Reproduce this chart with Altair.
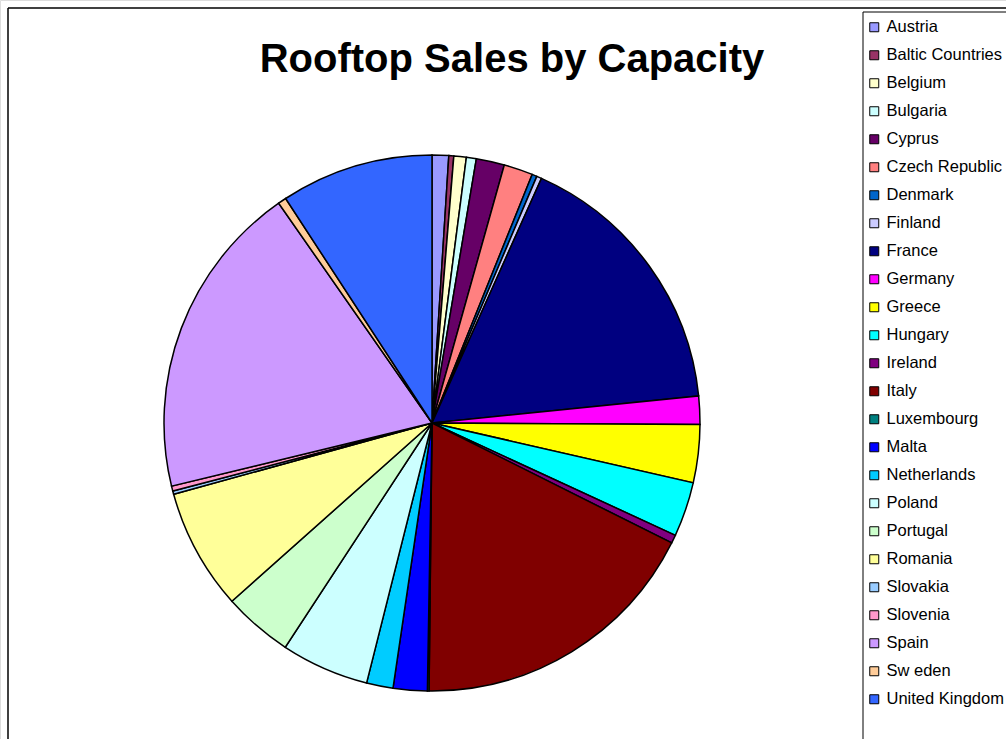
import altair as alt
import pandas as pd

countries = ["Austria", "Baltic Countries", "Belgium", "Bulgaria", "Cyprus",
             "Czech Republic", "Denmark", "Finland", "France", "Germany",
             "Greece", "Hungary", "Ireland", "Italy", "Luxembourg", "Malta",
             "Netherlands", "Poland", "Portugal", "Romania", "Slovakia",
             "Slovenia", "Spain", "Sw eden", "United Kingdom"]
shares = [1.0, 0.3, 0.75, 0.6, 1.7, 1.75, 0.3, 0.3, 16.7, 1.7,
          3.5, 3.3, 0.5, 17.8, 0.1, 2.05, 1.6, 5.3, 4.2, 7.3,
          0.2, 0.3, 19.1, 0.5, 9.2]
colors = ["#9999FF", "#993366", "#FFFFCC", "#CCFFFF", "#660066",
          "#FF8080", "#0066CC", "#CCCCFF", "#000080", "#FF00FF",
          "#FFFF00", "#00FFFF", "#800080", "#800000", "#008080", "#0000FF",
          "#00CCFF", "#CCFFFF", "#CCFFCC", "#FFFF99", "#99CCFF",
          "#FF99CC", "#CC99FF", "#FFCC99", "#3366FF"]
chart_title = "Rooftop Sales by Capacity"

df = pd.DataFrame({"country": countries, "share": shares,
                   "idx": list(range(len(countries)))})
one = pd.DataFrame({"t": [chart_title]})

FONT = "Liberation Sans"

pie = alt.Chart(df).mark_arc(stroke="black", strokeWidth=1.5, outerRadius=268).encode(
    theta=alt.Theta("share:Q", stack=True),
    order=alt.Order("idx:Q"),
    x=alt.value(432),
    y=alt.value(423),
    color=alt.Color("country:N",
                    scale=alt.Scale(domain=countries, range=colors),
                    sort=countries,
                    legend=alt.Legend(title=None, orient="none",
                                      legendX=866, legendY=19,
                                      symbolType="square", symbolSize=81,
                                      symbolStrokeColor="black",
                                      symbolStrokeWidth=1,
                                      labelFont=FONT, labelFontSize=16.5,
                                      labelColor="black",
                                      rowPadding=11, labelOffset=4,
                                      labelLimit=300)),
)

title = alt.Chart(one).mark_text(font=FONT, fontSize=40, fontWeight="bold",
                                 color="black", align="center",
                                 baseline="alphabetic").encode(
    x=alt.value(512), y=alt.value(72), text="t:N")

outer_left = alt.Chart(one).mark_rule(color="black", strokeWidth=1.5).encode(
    x=alt.value(8), y=alt.value(8), y2=alt.value(739))
outer_top = alt.Chart(one).mark_rule(color="black", strokeWidth=1.5).encode(
    x=alt.value(8), x2=alt.value(1006), y=alt.value(8))
leg_left = alt.Chart(one).mark_rule(color="black", strokeWidth=1).encode(
    x=alt.value(863), y=alt.value(12), y2=alt.value(739))
leg_top = alt.Chart(one).mark_rule(color="black", strokeWidth=1).encode(
    x=alt.value(863), x2=alt.value(1006), y=alt.value(12))

chart = alt.layer(pie, title, outer_left, outer_top, leg_left, leg_top).properties(
    width=1006, height=739, padding=0,
    autosize=alt.AutoSizeParams(type="none"),
).configure_view(stroke=None).configure(background="white")

chart.save("out.html", embed_options={"renderer": "svg", "actions": False})
